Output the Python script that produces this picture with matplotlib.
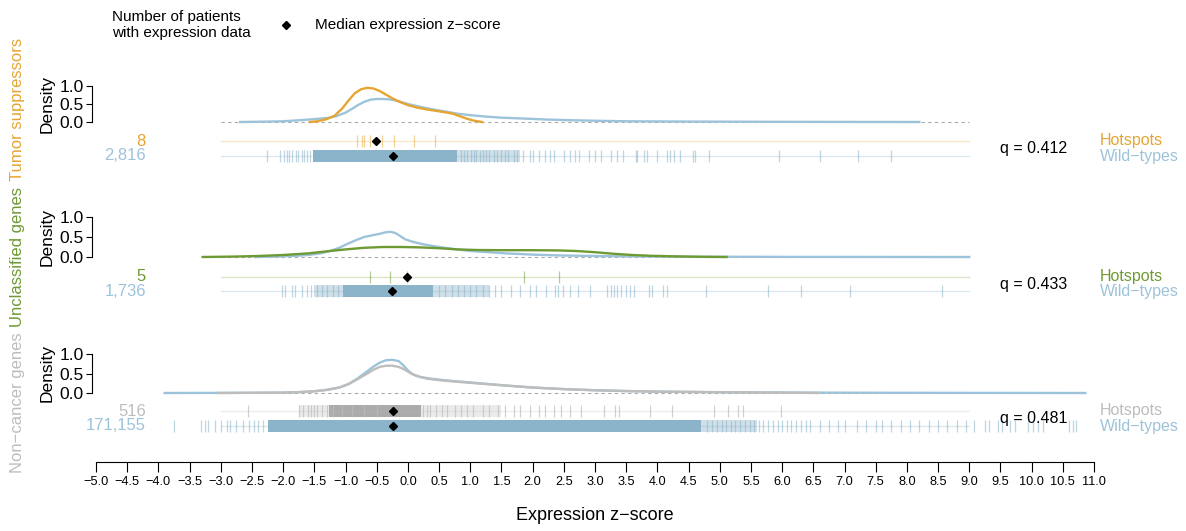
import matplotlib
matplotlib.use("Agg")
import matplotlib.pyplot as plt

plt.rcParams['font.family'] = ['Liberation Sans', 'DejaVu Sans']

# --- data --------------------------------------------------------------
group_names = ["Tumor suppressors", "Unclassified genes", "Non\u2212cancer genes"]
hot_counts = ["8", "5", "516"]
wt_counts = ["2,816", "1,736", "171,155"]
q_values = [0.412, 0.433, 0.481]

# density curves (z-score, density)
ts_hot_z = [-1.57, -1.45, -1.3, -1.17, -1.05, -0.95, -0.85, -0.75, -0.65, -0.55, -0.45, -0.35, -0.25, -0.13,
            0.0, 0.15, 0.3, 0.45, 0.6, 0.72, 0.85, 0.95, 1.05, 1.19]
ts_hot_d = [0.0, 0.02, 0.08, 0.18, 0.38, 0.6, 0.8, 0.91, 0.95, 0.93, 0.86, 0.76, 0.66, 0.56,
            0.47, 0.4, 0.35, 0.31, 0.27, 0.23, 0.15, 0.09, 0.04, 0.0]
ts_wt_z = [-2.69, -2.3, -2.0, -1.73, -1.5, -1.3, -1.15, -1.0, -0.9, -0.8, -0.7, -0.6, -0.5, -0.4, -0.3, -0.2,
           -0.1, 0.0, 0.2, 0.4, 0.6, 0.8, 1.0, 1.25, 1.5, 1.8, 2.2, 2.6, 3.0, 3.5, 4.5, 6.0, 8.2]
ts_wt_d = [0.0, 0.01, 0.02, 0.05, 0.08, 0.11, 0.16, 0.26, 0.36, 0.47, 0.56, 0.62, 0.64, 0.64, 0.63, 0.6,
           0.55, 0.5, 0.42, 0.35, 0.29, 0.23, 0.19, 0.15, 0.12, 0.1, 0.07, 0.05, 0.035, 0.02, 0.012, 0.005, 0.0]

un_hot_z = [-3.29, -2.8, -2.4, -2.0, -1.6, -1.25, -1.0, -0.7, -0.4, -0.1, 0.2, 0.5, 0.8, 1.1, 1.5, 2.0,
            2.4, 2.7, 3.0, 3.3, 3.6, 3.9, 4.3, 4.7, 5.11]
un_hot_d = [0.0, 0.01, 0.025, 0.05, 0.09, 0.15, 0.19, 0.23, 0.25, 0.25, 0.24, 0.22, 0.19, 0.175, 0.17, 0.17,
            0.165, 0.15, 0.12, 0.08, 0.05, 0.03, 0.015, 0.005, 0.0]
un_wt_z = [-2.45, -2.1, -1.8, -1.6, -1.4, -1.25, -1.1, -0.98, -0.85, -0.7, -0.55, -0.45, -0.35, -0.28, -0.2,
           -0.12, -0.04, 0.1, 0.24, 0.5, 0.78, 1.0, 1.2, 1.58, 2.0, 2.4, 3.0, 3.5, 4.5, 6.0, 9.0]
un_wt_d = [0.0, 0.01, 0.03, 0.05, 0.09, 0.15, 0.23, 0.32, 0.41, 0.5, 0.55, 0.58, 0.62, 0.63, 0.6,
           0.52, 0.44, 0.37, 0.32, 0.25, 0.19, 0.15, 0.13, 0.09, 0.06, 0.04, 0.025, 0.015, 0.008, 0.003, 0.0]

nc_hot_z = [-3.04, -2.0, -1.7, -1.5, -1.3, -1.1, -0.95, -0.8, -0.65, -0.55, -0.45, -0.35, -0.25, -0.15,
            -0.05, 0.05, 0.15, 0.3, 0.5, 0.7, 1.0, 1.5, 2.0, 2.5, 3.0, 3.5, 4.0, 5.0, 6.0, 6.58]
nc_hot_d = [0.0, 0.01, 0.025, 0.045, 0.08, 0.14, 0.23, 0.36, 0.5, 0.6, 0.67, 0.7, 0.7, 0.67,
            0.6, 0.5, 0.43, 0.37, 0.33, 0.3, 0.26, 0.2, 0.14, 0.1, 0.07, 0.05, 0.035, 0.02, 0.01, 0.0]
nc_wt_z = [-3.9, -2.5, -2.0, -1.7, -1.5, -1.3, -1.1, -0.95, -0.8, -0.65, -0.55, -0.45, -0.35, -0.25, -0.15,
           -0.08, 0.0, 0.08, 0.2, 0.4, 0.7, 1.0, 1.5, 2.0, 2.5, 3.0, 3.5, 4.0, 5.0, 6.0, 7.5, 9.0, 10.86]
nc_wt_d = [0.0, 0.005, 0.01, 0.025, 0.045, 0.08, 0.14, 0.23, 0.38, 0.56, 0.68, 0.78, 0.84, 0.85, 0.82,
           0.72, 0.58, 0.48, 0.41, 0.36, 0.31, 0.27, 0.2, 0.14, 0.1, 0.07, 0.05, 0.035, 0.02, 0.012, 0.006, 0.003, 0.0]

# rug data: individual ticks, dense z-ranges, half-dense z-ranges
ts_hot_ticks = [-0.82, -0.73, -0.70, -0.60, -0.41, -0.23, 0.10, 0.44]
un_hot_ticks = [-0.60, -0.28, -0.02, 1.86, 2.42]
nc_hot_ticks = [-2.56, -1.75, -1.68, -1.6, -1.55, -1.5, -1.45, -1.38, -1.3, -1.2, -1.05, -0.9, -0.7, -0.5,
                0.25, 0.3, 0.35, 0.45, 0.55, 0.62, 0.75, 0.85, 0.95, 1.05, 1.2, 1.3, 1.45, 1.55, 1.7, 1.8,
                1.95, 2.1, 2.2, 2.35, 2.45, 2.6, 2.78,
                3.14, 3.32, 3.38, 3.88, 4.24, 4.9, 5.14, 5.29, 5.38, 5.98]
nc_hot_dense = [(-1.27, 0.21)]
nc_hot_semi = [(-1.75, -1.27), (0.21, 1.5)]

ts_wt_ticks = [-2.26, -2.05, -1.98, -1.93, -1.9, -1.85, -1.8, -1.76, -1.7, -1.66, -1.62, -1.57,
               0.85, 0.9, 0.95, 1.02, 1.06, 1.1, 1.15, 1.2, 1.25, 1.3, 1.38, 1.43, 1.5, 1.55, 1.6, 1.7, 1.75,
               1.85, 1.95, 2.0, 2.1, 2.2, 2.28, 2.35, 2.5, 2.6, 2.68, 2.75, 2.9, 3.0, 3.1, 3.25, 3.35, 3.45,
               3.65, 3.67, 3.79, 3.83, 4.0, 4.15, 4.21, 4.27, 4.36, 4.57, 4.6, 4.83, 5.95, 6.61, 7.22, 7.75]
ts_wt_dense = [(-1.52, 0.78)]
ts_wt_semi = [(0.78, 1.8)]

un_wt_ticks = [-2.02, -1.97, -1.86, -1.81, -1.7, -1.62, -1.55, -1.45, -1.38, -1.3, -1.2, -1.12,
               0.5, 0.6, 0.7, 0.8, 0.9, 1.0, 1.1, 1.2, 1.3, 1.4, 1.5,
               1.66, 1.79, 1.96, 2.06, 2.22, 2.36, 2.41, 2.49, 2.6, 2.73, 2.92,
               3.2, 3.25, 3.3, 3.35, 3.42, 3.5, 3.56, 3.62, 3.86, 3.91, 4.09, 4.15, 4.78, 5.77, 6.31, 7.09, 8.56]
un_wt_dense = [(-1.04, 0.41)]
un_wt_semi = [(-1.5, -1.04), (0.41, 1.3)]

nc_wt_ticks = [-3.75, -3.32, -3.25, -3.2, -3.1, -3.0, -2.9, -2.85, -2.75, -2.65, -2.55, -2.47, -2.4, -2.32,
               4.8, 4.88, 4.95, 5.03, 5.1, 5.18, 5.25, 5.33, 5.4, 5.48, 5.55, 5.63, 5.7, 5.78, 5.85, 5.93,
               6.0, 6.08, 6.15, 6.23, 6.3, 6.38, 6.45,
               6.6, 6.75, 6.9, 7.0, 7.2, 7.35, 7.5, 7.6, 7.75, 7.9, 8.05, 8.2, 8.35, 8.5, 8.65, 8.8, 8.95,
               9.07, 9.25, 9.31, 9.46, 9.52, 9.66, 9.73, 9.94, 10.02, 10.1, 10.18, 10.6, 10.66, 10.71]
nc_wt_dense = [(-2.24, 4.7)]
nc_wt_semi = [(4.7, 5.6)]

# medians (diamonds)
hot_medians = [-0.51, -0.02, -0.24]
wt_medians = [-0.235, -0.25, -0.24]

x_ticks = [v / 2 for v in range(-10, 23)]

# --- styling ------------------------------------------------------------
orange = "#E6A532"
green = "#6E9A33"
grey = "#BDBDBD"
blue_line = "#9DC3DA"
blue_rug = "#8BB3CA"
hot_colors = [orange, green, grey]

W, H = 1186, 531
fig = plt.figure(figsize=(W / 100, H / 100), dpi=100)


def fx(px):
    return px / W


def fy(py):
    return 1 - py / H


x_left, x_right = 96, 1094
xlim = (-5, 11)

panels = [
    (ts_hot_z, ts_hot_d, ts_wt_z, ts_wt_d, ts_hot_ticks, [], [], ts_wt_ticks, ts_wt_dense, ts_wt_semi),
    (un_hot_z, un_hot_d, un_wt_z, un_wt_d, un_hot_ticks, [], [], un_wt_ticks, un_wt_dense, un_wt_semi),
    (nc_hot_z, nc_hot_d, nc_wt_z, nc_wt_d, nc_hot_ticks, nc_hot_dense, nc_hot_semi, nc_wt_ticks, nc_wt_dense, nc_wt_semi),
]
dens_base = [122, 257, 393]
dens_top = [86, 217, 354]
hot_row = [141, 277, 411]
wt_row = [156, 291, 426]
group_centers = [109, 257, 403]

h = 0.42
for i, (hz, hd, wz, wd, hticks, hdense, hsemi, wticks, wdense, wsemi) in enumerate(panels):
    col = hot_colors[i]
    # density panel
    ax = fig.add_axes([fx(x_left), fy(dens_base[i]), fx(x_right - x_left),
                       (dens_base[i] - dens_top[i]) / H])
    ax.set_xlim(*xlim)
    ax.set_ylim(0, 1)
    ax.plot([-3, 9], [0, 0], ls=(0, (3, 3)), color="#AAAAAA", lw=0.8, clip_on=False)
    # wild-type curve below, hotspot curve on top
    ax.plot(wz, wd, color=blue_line, lw=1.7, clip_on=False, zorder=3, solid_joinstyle="round")
    ax.plot(hz, hd, color=col, lw=1.7, clip_on=False, zorder=4, solid_joinstyle="round")
    for s in ["top", "right", "bottom"]:
        ax.spines[s].set_visible(False)
    ax.spines["left"].set_position(("outward", 3))
    ax.set_xticks([])
    ax.set_yticks([0, 0.5, 1.0])
    ax.set_yticklabels(["0.0", "0.5", "1.0"])
    ax.tick_params(axis="y", labelsize=12.5, length=4, pad=2)
    ax.set_ylabel("Density", fontsize=12.5, labelpad=3)
    ax.patch.set_alpha(0)

    # rug panel
    axr = fig.add_axes([fx(x_left), fy(wt_row[i] + 7.5), fx(x_right - x_left),
                        (wt_row[i] - hot_row[i] + 15) / H])
    axr.set_xlim(*xlim)
    axr.set_ylim(-0.5, 1.5)
    axr.axis("off")
    axr.plot([-3, 9], [1, 1], color=col, alpha=0.25, lw=1)
    axr.plot([-3, 9], [0, 0], color=blue_rug, alpha=0.3, lw=1)
    # hotspots
    for lo, hi in hsemi:
        axr.broken_barh([(lo, hi - lo)], (1 - h, 2 * h), color=grey, alpha=0.3, lw=0)
    for lo, hi in hdense:
        axr.broken_barh([(lo, hi - lo)], (1 - h, 2 * h), color="#ABABAB", lw=0)
    axr.vlines(hticks, 1 - h, 1 + h, color=col, alpha=0.5 if i < 2 else 0.7, lw=0.9)
    # wild-types
    for lo, hi in wsemi:
        axr.broken_barh([(lo, hi - lo)], (-h, 2 * h), color=blue_rug, alpha=0.4, lw=0)
    axr.vlines(wticks, -h, h, color=blue_rug, alpha=0.55, lw=0.9, clip_on=False)
    for lo, hi in wdense:
        axr.broken_barh([(lo, hi - lo)], (-h, 2 * h), color=blue_rug, lw=0)
    axr.plot([hot_medians[i]], [1], marker="D", color="black", ms=4.5, zorder=5)
    axr.plot([wt_medians[i]], [0], marker="D", color="black", ms=4.5, zorder=5)

    # side texts
    axr.text(-4.2, 1, hot_counts[i], color=col, ha="right", va="center", fontsize=12, clip_on=False)
    axr.text(-4.2, 0, wt_counts[i], color=blue_line, ha="right", va="center", fontsize=12, clip_on=False)
    axr.text(9.49, 0.5, f"q = {q_values[i]:.3f}", color="black", ha="left", va="center",
             fontsize=11.5, clip_on=False)
    axr.text(11.09, 1, "Hotspots", color=col, ha="left", va="center", fontsize=11.5, clip_on=False)
    axr.text(11.09, 0, "Wild\u2212types", color=blue_line, ha="left", va="center", fontsize=11.5, clip_on=False)

    fig.text(fx(18), fy(group_centers[i]), group_names[i], rotation=90, color=col,
             ha="center", va="center", fontsize=12)

# bottom axis
axb = fig.add_axes([fx(x_left), fy(462), fx(x_right - x_left), 0.001])
axb.set_xlim(*xlim)
for s in ["top", "right", "left"]:
    axb.spines[s].set_visible(False)
axb.set_yticks([])
axb.set_xticks(x_ticks)
axb.set_xticklabels([f"{v:.1f}".replace("-", "\u2212") for v in x_ticks])
axb.tick_params(axis="x", labelsize=9.2, length=7, pad=3)
axb.set_xlabel("Expression z\u2212score", fontsize=13, labelpad=14)
axb.patch.set_alpha(0)

# legend-like header
fig.text(fx(112), fy(10), "Number of patients\nwith expression data", ha="left", va="top",
         fontsize=11, linespacing=1.2)
fig.text(fx(315), fy(25), "Median expression z\u2212score", ha="left", va="center", fontsize=11)
axl = fig.add_axes([fx(280), fy(31), fx(12), 12 / H])
axl.axis("off")
axl.set_xlim(0, 1)
axl.set_ylim(0, 1)
axl.plot([0.5], [0.5], marker="D", color="black", ms=4.5)

fig.savefig("out.png", dpi=100)
